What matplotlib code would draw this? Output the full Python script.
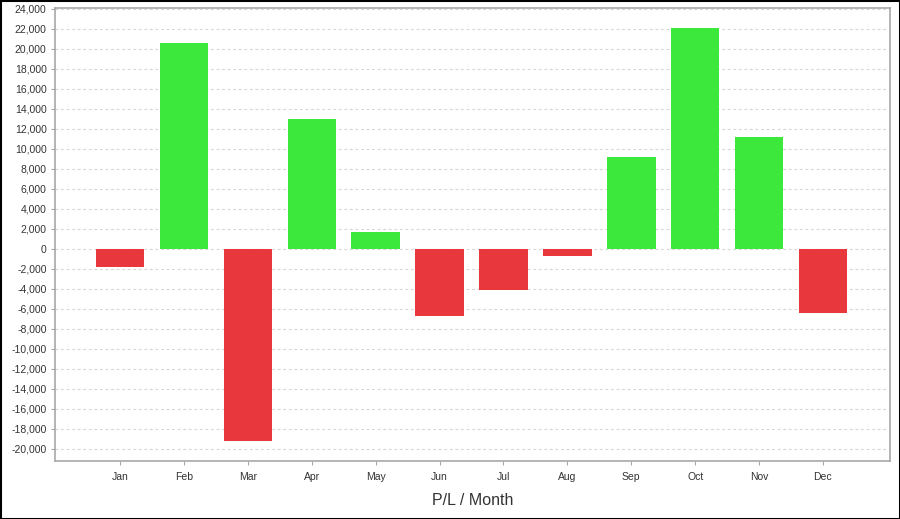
import matplotlib
matplotlib.use("Agg")
import matplotlib.pyplot as plt
from matplotlib.patches import Rectangle
from matplotlib.ticker import FuncFormatter, MultipleLocator

plt.rcParams["font.family"] = ["Liberation Sans", "DejaVu Sans"]

# ── Data ──────────────────────────────────────────────────────────────────────
months = ["Jan", "Feb", "Mar", "Apr", "May", "Jun",
          "Jul", "Aug", "Sep", "Oct", "Nov", "Dec"]
pl = [-1800, 20600, -19200, 13000, 1700, -6700,
      -4100, -700, 9200, 22100, 11200, -6400]

GREEN = "#3de83d"
RED = "#e8383d"

fig = plt.figure(figsize=(9, 5.19), dpi=100)
ax = fig.add_axes([55 / 900, 1 - 461 / 519, 835 / 900, 453 / 519])

x = range(len(months))
colors = [GREEN if v >= 0 else RED for v in pl]
ax.bar(x, pl, width=0.76, color=colors, zorder=3)

ax.set_xlim(-1.02, 12.05)
ax.set_ylim(-21200, 24100)
ax.yaxis.set_major_locator(MultipleLocator(2000))
ax.yaxis.set_major_formatter(FuncFormatter(lambda v, p: f"{int(v):,}"))
ax.set_xticks(list(x))
ax.set_xticklabels(months)

ax.grid(axis="y", color="#d6d6d6", linestyle=(0, (2.5, 2.5)), linewidth=0.8, zorder=0)
for s in ax.spines.values():
    s.set_color("#a8a8a8")
    s.set_linewidth(1.2)
ax.tick_params(axis="both", colors="#a8a8a8", labelcolor="#333333",
               labelsize=7.5, length=3, width=0.8)
ax.tick_params(axis="x", pad=5)
ax.tick_params(axis="y", pad=3)

ax.set_xlabel("P/L / Month", fontsize=11.5, color="#333333", labelpad=8)

# outer frame
fig.patches.append(Rectangle((0, 0), 1, 1, transform=fig.transFigure,
                             fill=False, edgecolor="black", linewidth=2.2))

fig.savefig("out.png", dpi=100)
